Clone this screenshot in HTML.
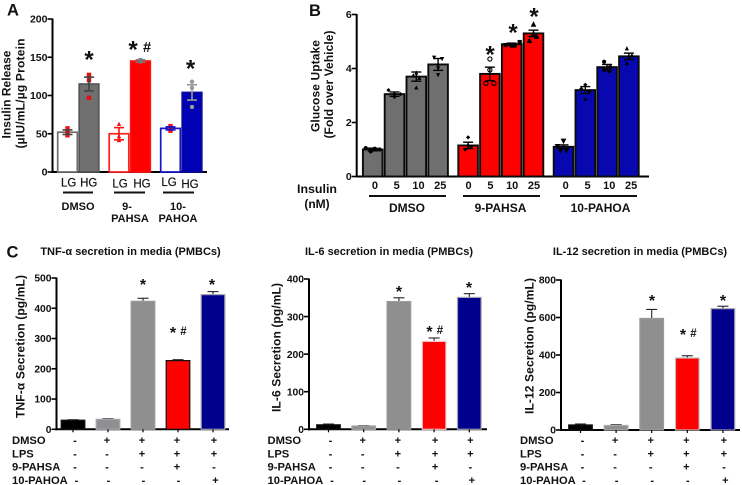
<!DOCTYPE html>
<html>
<head>
<meta charset="utf-8">
<title>Insulin, glucose uptake and cytokine secretion</title>
<style>
html,body{margin:0;padding:0;background:#fff;width:742px;height:485px;overflow:hidden}
svg{display:block}
text{font-family:"Liberation Sans",sans-serif;fill:#111}
.b{font-weight:bold}
</style>
</head>
<body>
<svg id="fig" width="742" height="485" viewBox="0 0 742 485" xmlns="http://www.w3.org/2000/svg">
<g style="filter:blur(0.35px)" id="root"></g>
</svg>
<script>
// Panel A data
const aCategories = ['DMSO LG','DMSO HG','9-PAHSA LG','9-PAHSA HG','10-PAHOA LG','10-PAHOA HG'];
const aValues = [52,115,50,145,57,104];
const aErrors = [3,9,8,1.5,2,10];
const aPoints = [[57,52,48],[127,120,97],[63,42,47],[146,146,143],[60,54,57],[118,110,85]];
const aTicks = [0,50,100,150,200];
// Panel B data
const bDoses = ['0','5','10','25'];
const bGroups = ['DMSO','9-PAHSA','10-PAHOA'];
const bValues = [1.0,3.05,3.7,4.15,1.15,3.8,4.9,5.3,1.1,3.2,4.05,4.45];
const bErrors = [0.05,0.08,0.17,0.22,0.12,0.25,0.04,0.12,0.07,0.13,0.1,0.12];
const bPoints = [[1.05,1.0,0.93,1.03],[3.2,3.05,2.95,3.05],[3.85,3.75,3.65,3.3],[4.4,4.35,4.0,3.75],
  [1.45,1.15,1.0,1.1],[4.35,3.95,3.45,3.45],[4.98,4.87,4.85,4.85],[5.65,5.3,5.2,5.05],
  [1.3,1.1,0.95,0.95],[3.4,3.25,3.15,2.85],[4.25,4.05,3.95,3.9],[4.75,4.5,4.4,4.2]];
const bTicks = [0,2,4,6];
// Panel C data
const cTnfValues = [30,33,423,227,445];
const cTnfErrors = [1.5,2,10,3,10];
const cTnfTicks = [0,100,200,300,400,500];
const cIl6Values = [12,9,340,234,351];
const cIl6Errors = [2,1,10,9,10];
const cIl6Ticks = [0,100,200,300,400];
const cIl12Values = [27,24,595,384,647];
const cIl12Errors = [5,4,48,12,13];
const cIl12Ticks = [0,200,400,600,800];
const cRowLabels = ['DMSO','LPS','9-PAHSA','10-PAHOA'];
const cRowSigns = [['-','+','+','+','+'],['-','-','+','+','+'],['-','-','-','+','-'],['-','-','-','-','+']];

const NS = 'http://www.w3.org/2000/svg';
const root = document.getElementById('root');
function mk(tag, attrs, parent){
  const e = document.createElementNS(NS, tag);
  for (const k in attrs) e.setAttribute(k, attrs[k]);
  (parent || root).appendChild(e);
  return e;
}
function line(x1,y1,x2,y2,stroke,w,parent){
  return mk('line',{x1:x1,y1:y1,x2:x2,y2:y2,stroke:stroke,'stroke-width':w},parent);
}
function txt(s,x,y,size,anchor,bold,parent,rot){
  const a = {x:x,y:y,'font-size':size,'text-anchor':anchor||'middle'};
  if (bold) a['class'] = 'b';
  if (rot) a.transform = 'rotate(-90 '+x+' '+y+')';
  const e = mk('text',a,parent);
  e.textContent = s;
  return e;
}
function star(cx,cy,size,parent){
  const e = txt('*',cx,cy+0.56*size-2,size,'middle',true,parent);
  
  
  return e;
}
function hash(cx,cy,size,parent){
  const e = txt('#',cx,cy+0.35*size,size,'middle',true,parent);
  
  
  return e;
}
function marker(shape,x,y,r,fill,parent){
  if (shape==='square') return mk('rect',{x:x-r,y:y-r,width:2*r,height:2*r,fill:fill},parent);
  if (shape==='circle') return mk('circle',{cx:x,cy:y,r:r,fill:fill},parent);
  if (shape==='ring') return mk('circle',{cx:x,cy:y,r:r,fill:'none',stroke:fill,'stroke-width':1.1},parent);
  if (shape==='up') return mk('polygon',{points:(x-r)+','+(y+r)+' '+(x+r)+','+(y+r)+' '+x+','+(y-r),fill:fill},parent);
  if (shape==='down') return mk('polygon',{points:(x-r)+','+(y-r)+' '+(x+r)+','+(y-r)+' '+x+','+(y+r),fill:fill},parent);
  return mk('polygon',{points:(x-r)+','+y+' '+x+','+(y-r)+' '+(x+r)+','+y+' '+x+','+(y+r),fill:fill},parent);
}
function axes(name,xAxis,xEnd,yTop,yBase,maxV,ticks,tickSize){
  const y = v => yBase-(v/maxV)*(yBase-yTop);
  const g = mk('g',{});
  
  
  line(xAxis,yTop-0.5,xAxis,yBase+1,'#000',2,g);
  line(xAxis-1,yBase,xEnd,yBase,'#000',2,g);
  ticks.forEach(t=>{
    line(xAxis-5,y(t),xAxis,y(t),'#000',1.6,g);
    const l = txt(String(t),xAxis-5,y(t)+3.7,tickSize,'end',true,g);
    
    
  });
  return y;
}

/* ---------- Panel A ---------- */
(function(){
  const y = axes('panel-a',52.5,207,19,172,200,aTicks,10.5);
  const x = i => 67.5 + 51.5*Math.floor(i/2) + 21.5*(i%2);
  const fills = ['#fff','#707070','#fff','#ff0000','#fff','#0000b4'];
  const strokes = ['#6e6e6e','#555','#ff2020','#ff1010','#1515c8','#0a0a9a'];
  const ebColor = ['#444','#444','#ff1010','#777','#1010d0','#9a9a9a'];
  const ptColor = ['#f01010','#e01010','#ff1010','#888','#f01010','#999'];
  const ptShape = ['square','square','up','down','square','circle'];
  aValues.forEach((v,i)=>{
    const g = mk('g',{});
    
    
    mk('rect',{x:x(i)-9.8,y:y(v),width:19.6,height:y(0)-y(v),fill:fills[i],stroke:strokes[i],'stroke-width':1.7},g);
    const c = x(i);
    aPoints[i].forEach(p=>marker(ptShape[i],c,y(p),2.2,ptColor[i],g));
    const top = y(v+aErrors[i]), bot = y(v-aErrors[i]);
    line(c,top,c,bot,ebColor[i],1.6,g);
    line(c-5,top,c+5,top,ebColor[i],1.6,g);
    line(c-5,bot,c+5,bot,ebColor[i],1.6,g);
  });
  star(89,56,24);
  star(133,46,24);
  hash(147,47,14.5);
  star(190.5,65,24);
  const hg = ['LG','HG','LG','HG','LG','HG'];
  const lx = [68.7,88.7,120,142,169,190];
  const ly = [186.5,186.5,187.5,187.5,186,188];
  hg.forEach((s,i)=>{
    const t = txt(s,lx[i],ly[i],11.5);
    
    
    t.setAttribute('style','stroke:#111;stroke-width:.2');
  });
  [[63,93],[114,145],[163,194]].forEach(p=>{
    const l = line(p[0],192.5,p[1],192.5,'#111',1.9);
    
    
  });
  const labs = [['DMSO',78,210],['9-',127,210],['PAHSA',130,222],['10-',178,210],['PAHOA',178,222]];
  labs.forEach(a=>{
    const t = txt(a[0],a[1],a[2],11,'middle',true);
    
    
  });
  const t1 = txt('Insulin Release',10.5,138.5,12,'start',true,null,true);
  
  
  t1.setAttribute('textLength','88');
  const t2 = txt('(µIU/mL/µg Protein',24.5,148.5,12,'start',true,null,true);
  
  
  t2.setAttribute('textLength','110');
})();

/* ---------- Panel B ---------- */
(function(){
  const y = axes('panel-b',356.7,649,14.5,176.5,6,bTicks,10.5);
  const x = i => 372.7 + 95.4*Math.floor(i/4) + 21.8*(i%4);
  const fills = ['#6f6f6f','#ff0000','#0808b0'];
  const shapeTable = [['circle','diamond','up','down'],['diamond','ring','square','up'],['down','diamond','circle','up']];
  const jitter = [[-7,7,-2,2],[-6,6,0,0],[0,-3,3,0],[-4,4,0,0],
    [0,0,-3,3],[0,0,-4,4],[8,-6,0,3],[0,0,3,-4],
    [0,-6,-3,3],[0,-4,4,0],[-3,3,-3,2],[-2,3,0,-2]];
  bValues.forEach((v,i)=>{
    const gi = Math.floor(i/4), di = i%4;
    const g = mk('g',{});
    
    
    mk('rect',{x:x(i)-9.8,y:y(v),width:19.6,height:y(0)-y(v),fill:fills[gi],stroke:'#0a0a0a','stroke-width':1.9},g);
    const c = x(i);
    const shape = shapeTable[gi][di];
    bPoints[i].forEach((p,k)=>marker(shape,c+jitter[i][k],y(p),(i===7||i===8)?2.8:2.1,'#000',g));
    const top = y(v+bErrors[i]), bot = y(v-bErrors[i]);
    line(c,top,c,bot,'#000',1.4,g);
    line(c-5,top,c+5,top,'#000',1.4,g);
    line(c-5,bot,c+5,bot,'#000',1.4,g);
    const lab = txt(bDoses[di],c+(gi===1?0.5:2.2),189,11,'middle',true);
    
    
  });
  star(490,51,24);
  star(513,29,24);
  star(534,13,24);
  const bl = [[369,446,407],[463,540,500.5],[560,637,600.5]];
  bl.forEach((p,i)=>{
    const l = line(p[0],196,p[1],196,'#111',2);
    
    
    const t = txt(bGroups[i],p[2],212,12,'middle',true);
    
    
  });
  const i1 = txt('Insulin',317,193,12.4,'middle',true);
  
  
  const i2 = txt('(nM)',317,208,12,'middle',true);
  
  
  const t1 = txt('Glucose Uptake',319.5,132,12,'start',true,null,true);
  
  
  t1.setAttribute('textLength','92');
  const t2 = txt('(Fold over Vehicle)',333,138.5,12,'start',true,null,true);
  
  
  t2.setAttribute('textLength','108');
})();

/* ---------- Panel C ---------- */
function cytokine(o){
  const y = axes(o.name,o.xAxis,o.xEnd,o.yTop,o.yBase,o.maxV,o.ticks,10.3);
  const x = i => o.x0 + o.step*i;
  const fills = ['#000','#8f8f93','#8f8f8f','#ff0000','#00008c'];
  const strokes = ['#111','#a8a8a8','#9a9a9a',o.redStroke,'#a0a0b0'];
  o.values.forEach((v,i)=>{
    const g = mk('g',{});
    
    
    const c = x(i), top = y(v+o.errors[i]);
    line(c,y(v),c,top,'#222',1.1,g);
    line(c-5.5,top,c+5.5,top,'#222',1.1,g);
    mk('rect',{x:c-11.8,y:y(v),width:23.6,height:y(0)-y(v),fill:fills[i],stroke:strokes[i],'stroke-width':1.2},g);
    line(c,y(0),c,y(0)+3,'#000',1.2,g);
  });
  const t = txt(o.title,o.titleX,255,11,'middle',true);
  
  
  const yt = txt(o.yTitle,o.yTitleX,o.yTitleY,12,'start',true,null,true);
  
  
  yt.setAttribute('textLength',o.yTitleLen);
  const rowY = [444,457.3,470.7,484];
  cRowLabels.forEach((lab,r)=>{
    const l = txt(lab,o.labelX,rowY[r],11.2,'start',true);
    
    
    cRowSigns[r].forEach((s,i)=>{
      const sg = txt(s,x(i)+o.signDx[i]+(r===3?1.5:0),rowY[r],11,'middle',true);
      
      
    });
  });
  o.stars.forEach(p=>star(p[0],p[1],16));
  hash(o.hash[0],o.hash[1],11.5);
}
cytokine({name:'tnf-chart',title:'TNF-α secretion in media (PMBCs)',titleX:130.5,yTitle:'TNF-α Secretion (pg/mL)',
  yTitleX:24.5,yTitleY:418,yTitleLen:'143',xAxis:56.5,xEnd:229,yTop:278,yBase:429.3,maxV:500,ticks:cTnfTicks,
  x0:73,step:35,values:cTnfValues,errors:cTnfErrors,redStroke:'#111',labelX:12,signDx:[2,-1,-1,-1,1],
  stars:[[143,283],[212,283],[173,331]],hash:[183.5,331]});
cytokine({name:'il6-chart',title:'IL-6 secretion in media (PMBCs)',titleX:389,yTitle:'IL-6 Secretion (pg/mL)',
  yTitleX:280.5,yTitleY:412,yTitleLen:'129',xAxis:309,xEnd:487,yTop:279,yBase:429.3,maxV:400,ticks:cIl6Ticks,
  x0:328.5,step:35.2,values:cIl6Values,errors:cIl6Errors,redStroke:'#f4c8c8',labelX:267.5,signDx:[2,-1,-1,1,1],
  stars:[[399,290],[429.5,330],[469,286]],hash:[440,330]});
cytokine({name:'il12-chart',title:'IL-12 secretion in media (PMBCs)',titleX:640,yTitle:'IL-12 Secretion (pg/mL)',
  yTitleX:533.5,yTitleY:414,yTitleLen:'136',xAxis:561,xEnd:740,yTop:280,yBase:430,maxV:800,ticks:cIl12Ticks,
  x0:580.5,step:35.6,values:cIl12Values,errors:cIl12Errors,redStroke:'#bdbdbd',labelX:520,signDx:[2,-1,-1,-1,1],
  stars:[[652,299],[683,333],[723,299]],hash:[693.5,333]});

/* ---------- Panel letters ---------- */
const letterA = txt('A',7,15.5,16.5,'start',true);


const letterB = txt('B',309,16,16.5,'start',true);


const letterC = txt('C',6.5,257.5,16.5,'start',true);


</script>
</body>
</html>
